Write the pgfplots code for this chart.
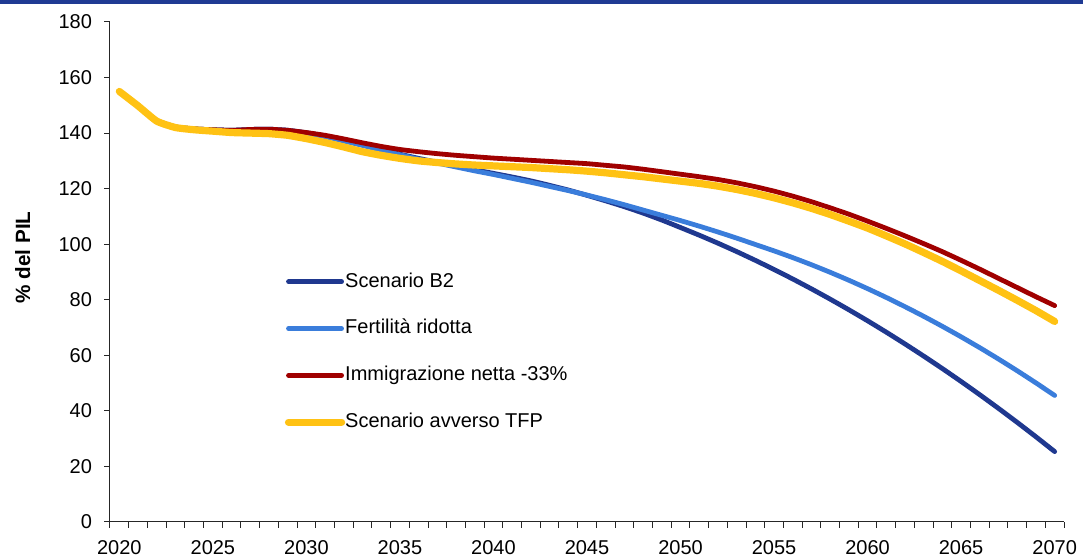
\documentclass[border=0pt]{standalone}
\usepackage{fontspec}
\setmainfont{Liberation Sans}
\usepackage{pgfplots}
\pgfplotsset{compat=1.18}
\definecolor{topblue}{RGB}{31,58,147}
\definecolor{darkblue}{RGB}{31,56,143}
\definecolor{lightblue}{RGB}{58,125,219}
\definecolor{darkred}{RGB}{160,0,0}
\definecolor{gold}{RGB}{255,194,20}
\begin{document}
\begin{tikzpicture}
\useasboundingbox (-82.5pt,-27.75pt) rectangle (729.75pt,391.5pt);
\fill[topblue] (-82.5pt,388.2pt) rectangle (729.75pt,391.5pt);
\begin{axis}[
  at={(0,0)}, anchor=south west,
  scale only axis, width=715.5pt, height=375pt,
  xmin=2019.5, xmax=2070.5, ymin=0, ymax=180,
  axis lines=left, axis line style={black!85, line width=0.75pt, -},
  xtick={2020,2025,...,2070},
  minor xtick={2019.5,2020.5,...,2070.5},
  ytick={0,20,...,180},
  tick align=outside,
  major tick length=4.5pt, minor tick length=4.5pt,
  major x tick style={draw=none},
  tick style={black!85, line width=0.75pt},
  /pgf/number format/assume math mode=true,
  /pgf/number format/1000 sep={},
  tick label style={font=\fontsize{15}{18}\selectfont},
  yticklabel style={xshift=-5.5pt},
  xticklabel style={yshift=-5.5pt},
  ylabel={\% del PIL},
  ylabel style={font=\bfseries\fontsize{15.5}{18}\selectfont, at={(axis description cs:-0.0915,0.529)}, anchor=center},
  legend style={draw=none, fill=none, at={(axis description cs:0.1789,0.505)}, anchor=north west,
    font=\fontsize{15}{18}\selectfont, row sep=21.1pt,
    nodes={inner sep=0pt, text height=11pt, text depth=3pt}},
  legend cell align=left,
  legend image code/.code={\draw[#1, line cap=round] (1.5pt,0pt) -- (38.5pt,0pt); \path (0pt,0pt) -- (39.8pt,0pt);},
  every axis plot/.append style={line cap=round, line join=round, smooth, tension=0.3},
]
% Scenario B2
\addplot[darkblue, line width=3.6pt] coordinates {
(2020,155) (2021,149.8) (2022,144.5) (2023,142.2) (2024,141.5) (2025,141.2) (2026,141) (2027,141.3) (2028,141.4) (2029,141)
(2030,140.1) (2031,138.9) (2032,137.3) (2033,135.7) (2034,134.1) (2035,132.4) (2036,130.9) (2037,129.5) (2038,128.1) (2039,126.8)
(2040,125.5) (2041,124.2) (2042,122.8) (2043,121.2) (2044,119.5) (2045,117.6) (2046,115.6) (2047,113.5) (2048,111.2) (2049,108.7)
(2050,106.0) (2051,103.25) (2052,100.37) (2053,97.35) (2054,94.19) (2055,90.9) (2056,87.48) (2057,83.92) (2058,80.22) (2059,76.39)
(2060,72.43) (2061,68.33) (2062,64.09) (2063,59.72) (2064,55.22) (2065,50.58) (2066,45.8) (2067,40.89) (2068,35.85) (2069,30.67) (2070,25.35)
};
\addlegendentry{Scenario B2}
% Fertilita ridotta
\addplot[lightblue, line width=3.6pt] coordinates {
(2020,155) (2021,149.8) (2022,144.5) (2023,142.2) (2024,141.5) (2025,141.2) (2026,141) (2027,141.3) (2028,141.4) (2029,141)
(2030,140) (2031,138.8) (2032,137.2) (2033,135.6) (2034,133.9) (2035,132.2) (2036,130.6) (2037,129.2) (2038,127.8) (2039,126.4)
(2040,125.1) (2041,123.7) (2042,122.3) (2043,120.8) (2044,119.3) (2045,117.7) (2046,116) (2047,114.2) (2048,112.3) (2049,110.4)
(2050,108.5) (2051,106.5) (2052,104.4) (2053,102.2) (2054,99.9) (2055,97.6) (2056,95.18) (2057,92.61) (2058,89.89) (2059,87.02)
(2060,84.0) (2061,80.83) (2062,77.51) (2063,74.04) (2064,70.42) (2065,66.65) (2066,62.73) (2067,58.66) (2068,54.44) (2069,50.07) (2070,45.55)
};
\addlegendentry{Fertilità ridotta}
% Immigrazione netta -33%
\addplot[darkred, line width=3.6pt] coordinates {
(2020,155) (2021,149.8) (2022,144.5) (2023,142.2) (2024,141.5) (2025,141.2) (2026,141) (2027,141.3) (2028,141.4) (2029,141)
(2030,140.2) (2031,139.2) (2032,137.9) (2033,136.5) (2034,135.2) (2035,134.1) (2036,133.3) (2037,132.6) (2038,132) (2039,131.5)
(2040,131) (2041,130.6) (2042,130.2) (2043,129.8) (2044,129.4) (2045,129) (2046,128.4) (2047,127.8) (2048,127) (2049,126.1)
(2050,125.2) (2051,124.3) (2052,123.3) (2053,122.1) (2054,120.7) (2055,119.1) (2056,117.3) (2057,115.3) (2058,113.1) (2059,110.8)
(2060,108.3) (2061,105.7) (2062,103) (2063,100.2) (2064,97.3) (2065,94.2) (2066,91) (2067,87.7) (2068,84.4) (2069,81.1) (2070,77.9)
};
\addlegendentry{Immigrazione netta -33\%}
% Scenario avverso TFP
\addplot[gold, line width=5.4pt] coordinates {
(2020,155) (2021,149.8) (2022,144.3) (2023,142) (2024,141.2) (2025,140.7) (2026,140.2) (2027,140) (2028,139.8) (2029,139.2)
(2030,138) (2031,136.6) (2032,135) (2033,133.3) (2034,132) (2035,130.9) (2036,130) (2037,129.4) (2038,128.9) (2039,128.5)
(2040,128.2) (2041,127.9) (2042,127.6) (2043,127.2) (2044,126.8) (2045,126.3) (2046,125.7) (2047,125) (2048,124.3) (2049,123.5)
(2050,122.7) (2051,121.9) (2052,120.9) (2053,119.7) (2054,118.3) (2055,116.7) (2056,114.9) (2057,112.9) (2058,110.7) (2059,108.3)
(2060,105.8) (2061,103.0) (2062,100.1) (2063,97.0) (2064,93.8) (2065,90.4) (2066,86.9) (2067,83.4) (2068,79.8) (2069,76.1) (2070,72.2)
};
\addlegendentry{Scenario avverso TFP}
\end{axis}
\end{tikzpicture}
\end{document}
